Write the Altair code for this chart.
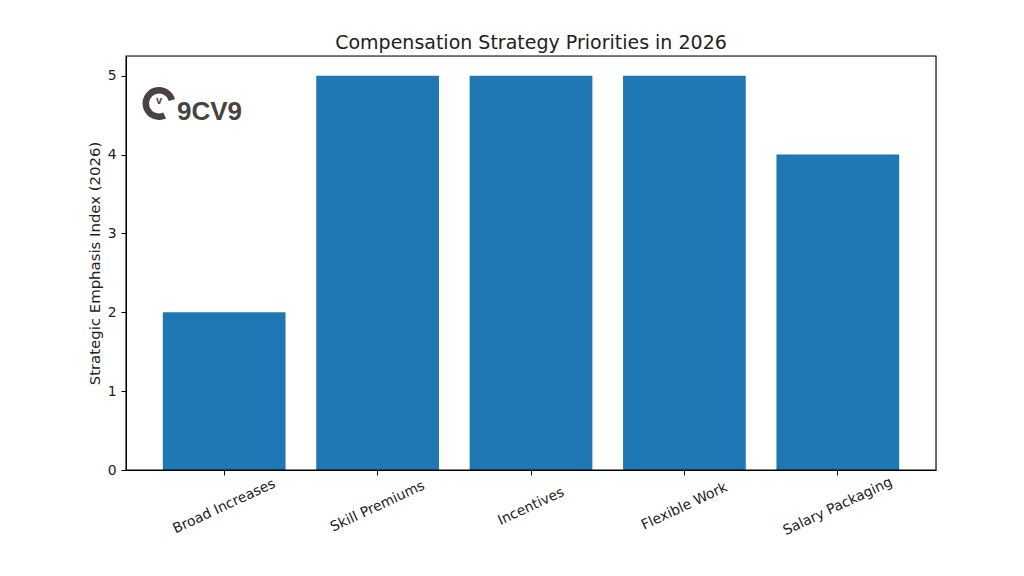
import altair as alt
import pandas as pd

categories = ["Broad Increases", "Skill Premiums", "Incentives", "Flexible Work", "Salary Packaging"]
values = [2, 5, 5, 5, 4]
y_ticks = [0, 1, 2, 3, 4, 5]
title_text = "Compensation Strategy Priorities in 2026"
y_title = "Strategic Emphasis Index (2026)"
logo_text = ["9CV9"]
logo_mark = ["v"]

df = pd.DataFrame({"category": categories, "value": values})
logo_df = pd.DataFrame({"t": logo_text, "m": logo_mark})

FONT = "DejaVu Sans"
LOGO = "#4a4242"

bars = alt.Chart(df).mark_bar(color="#1f77b4").encode(
    x=alt.X(
        "category:N", sort=categories, title=None,
        scale=alt.Scale(paddingInner=0.2, paddingOuter=0.24),
        axis=alt.Axis(labelAngle=-25, labelAlign="center", labelBaseline="middle",
                      labelPadding=31, tickSize=5, labelFontSize=13.9, labelFont=FONT,
                      labelColor="#222", tickColor="black", domainColor="black", grid=False),
    ),
    y=alt.Y(
        "value:Q", title=y_title,
        scale=alt.Scale(domain=[0, 5.25], nice=False, zero=True),
        axis=alt.Axis(values=y_ticks, tickSize=5, labelPadding=5, labelFontSize=13.9,
                      labelFont=FONT, labelColor="#222", tickColor="black", domainColor="black",
                      grid=False, titleFont=FONT, titleFontSize=14.9, titleFontWeight="normal",
                      titleColor="#222", titleX=-31, titleY=207, titleAngle=270,
                      titleAlign="center", titleBaseline="middle", format="d"),
    ),
)

frame = alt.Chart(logo_df).mark_rect(fill=None, stroke="black", strokeWidth=1.1).encode(
    x=alt.value(0), x2=alt.value(810), y=alt.value(0), y2=alt.value(414)
)

ring = alt.Chart(logo_df).mark_arc(radius=16.5, radius2=10, theta=2.7, theta2=7.6, color=LOGO).encode(
    x=alt.value(33), y=alt.value(47.5)
)
vmark = alt.Chart(logo_df).mark_text(fontSize=11, fontWeight="bold", font="Liberation Sans",
                                     color=LOGO, align="center", baseline="middle").encode(
    x=alt.value(33), y=alt.value(45), text="m:N"
)
logo = alt.Chart(logo_df).mark_text(fontSize=26, fontWeight="bold", font="Liberation Sans",
                                    color=LOGO, align="left", baseline="alphabetic").encode(
    x=alt.value(51), y=alt.value(64), text="t:N"
)

chart = alt.layer(bars, frame, ring, vmark, logo).properties(
    width=810, height=414,
    title=alt.TitleParams(title_text, fontSize=19, font=FONT, fontWeight="normal",
                          anchor="middle", baseline="alphabetic", offset=8, dy=21, color="#222"),
    autosize=alt.AutoSizeParams(type="none"),
    padding={"left": 118, "top": 48, "right": 80, "bottom": 90},
).configure_view(stroke=None).configure(background="white")

chart.save("out.html", embed_options={"renderer": "svg", "actions": False})
